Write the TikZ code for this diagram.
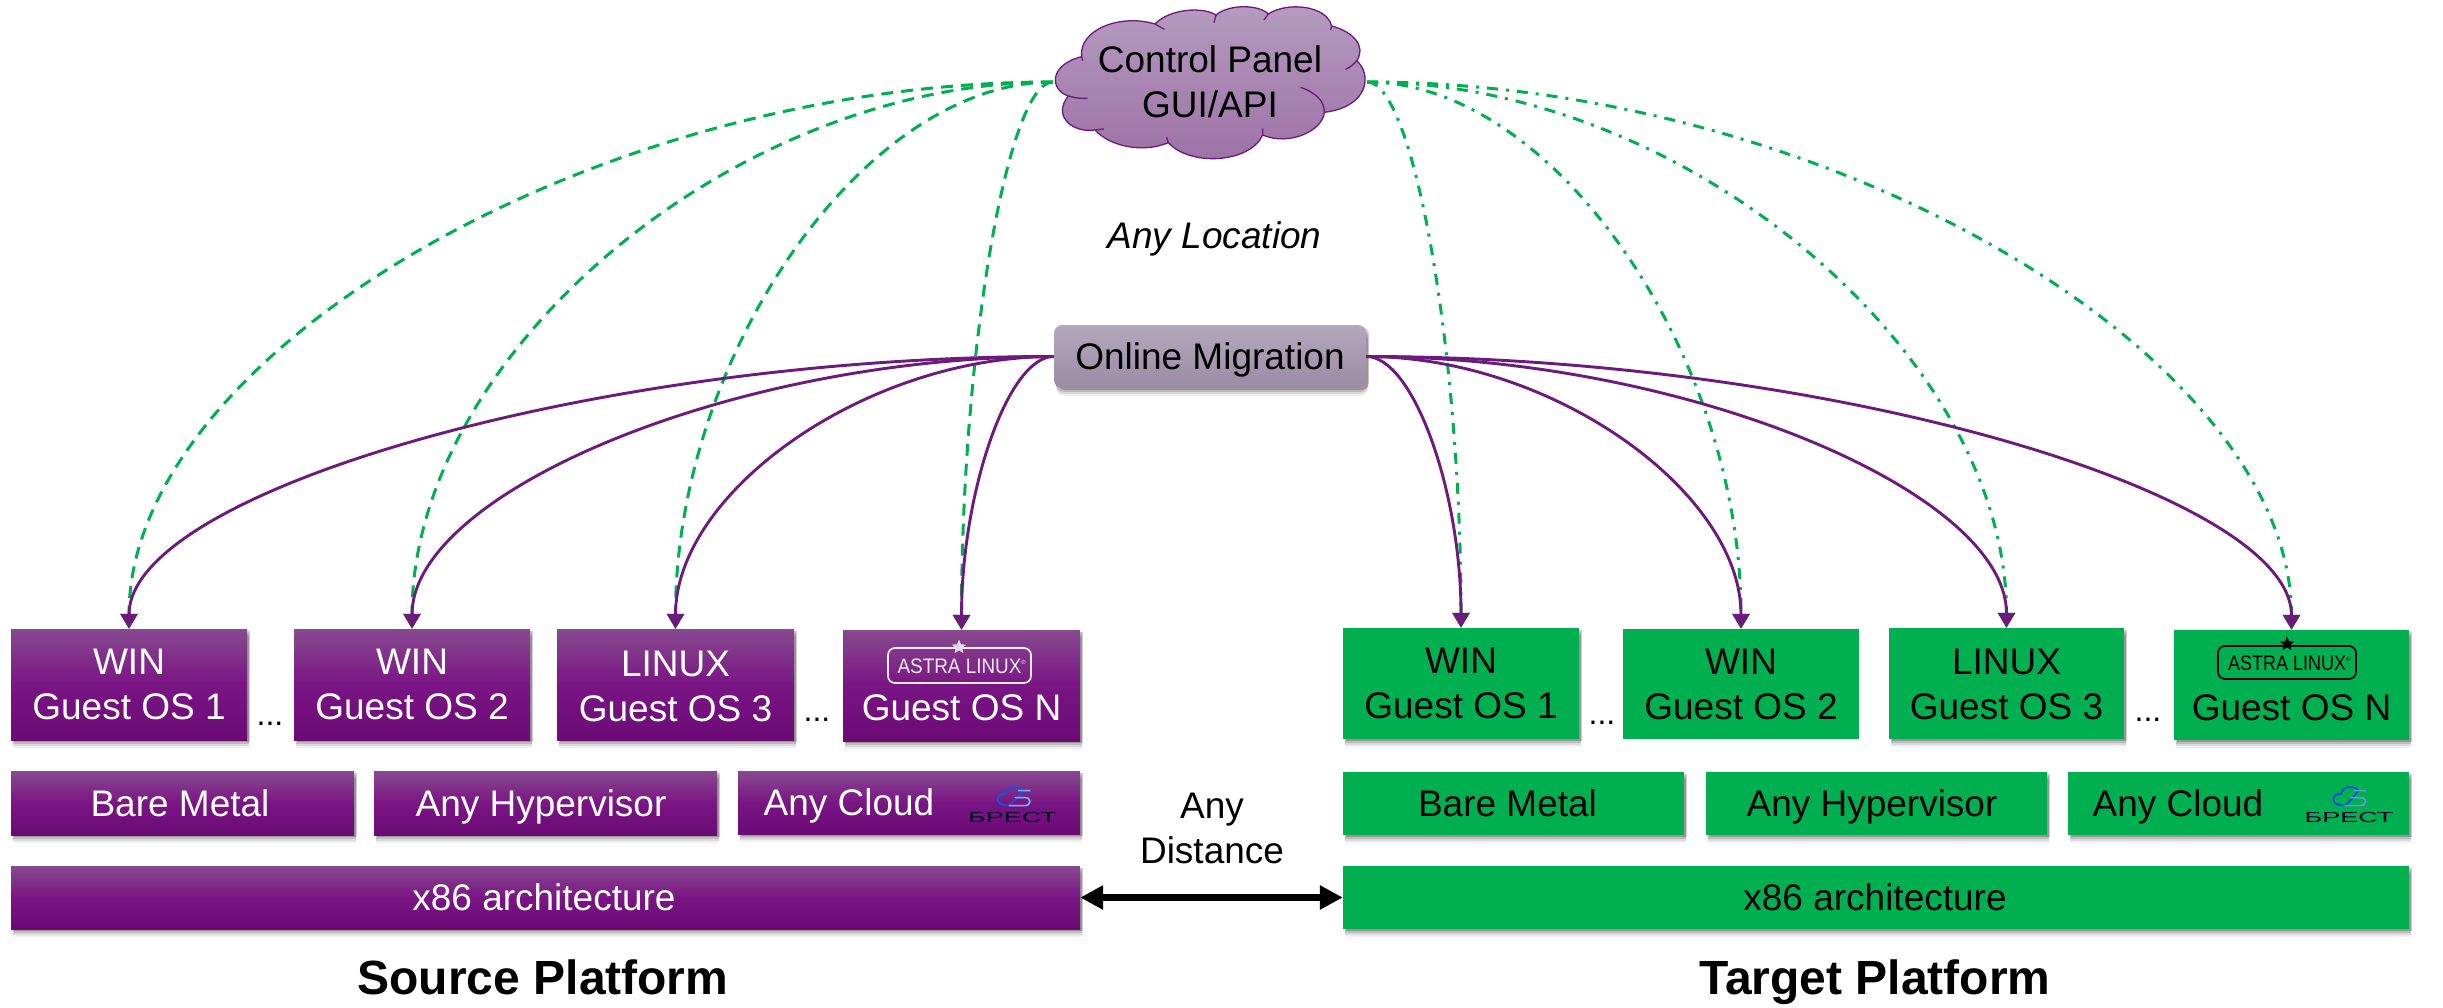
\documentclass[tikz,border=0pt]{standalone}
\usepackage{fontspec}
\setmainfont{Liberation Sans}
\usetikzlibrary{arrows.meta,calc,shadows,shapes.geometric}
\definecolor{purpTop}{HTML}{874A8F}
\definecolor{purpMid}{HTML}{7A1584}
\definecolor{purpBot}{HTML}{6B0A75}
\definecolor{purpLine}{HTML}{6C1A7C}
\definecolor{grn}{HTML}{00B050}
\definecolor{cloudTop}{HTML}{B59CBF}
\definecolor{cloudBot}{HTML}{9C70A5}
\definecolor{migTop}{HTML}{B4A8BD}
\definecolor{migBot}{HTML}{9B8BA5}
\tikzset{
  softshadow/.style={
    general shadow={fill=black,opacity=.06,shadow xshift=2pt,shadow yshift=-8pt},
    general shadow={fill=black,opacity=.09,shadow xshift=2pt,shadow yshift=-6pt},
    general shadow={fill=black,opacity=.13,shadow xshift=2pt,shadow yshift=-4pt},
    general shadow={fill=black,opacity=.20,shadow xshift=3pt,shadow yshift=-2pt}},
  txt/.style={font=\fontsize{37}{45}\selectfont,align=center,inner sep=0pt},
  srcplain/.style={txt,text=white,top color=purpTop,bottom color=purpBot,middle color=purpMid},
  srcbox/.style={softshadow,srcplain},
  tgtplain/.style={txt,text=black,fill=grn},
  tgtbox/.style={softshadow,tgtplain},
  oneline/.style={text height=26pt,text depth=0pt},
  guest/.style={minimum width=236pt,minimum height=111pt},
  greenA/.style={grn,line width=3pt,dash pattern=on 12pt off 8pt,-{Triangle[width=17pt,length=15pt]}},
  greenB/.style={grn,line width=3pt,dash pattern=on 11pt off 8pt on 3pt off 8pt,-{Triangle[width=17pt,length=15pt]}},
  purp/.style={purpLine,line width=2.9pt,-{Triangle[width=17pt,length=15pt]}},
  lbl/.style={font=\fontsize{37}{45}\selectfont,align=center,inner sep=0pt},
  dotsl/.style={font=\fontsize{32}{32}\selectfont,inner sep=0pt,anchor=base},
  head/.style={font=\fontsize{48}{50}\selectfont\bfseries,inner sep=0pt,anchor=base},
  astra/.style={rounded corners=7pt,line width=1.7pt,inner sep=0pt,oneline,text height=15pt,
     font=\fontsize{21}{21}\selectfont},
  brest/.style={inner sep=0pt,font=\fontsize{14.6}{15}\selectfont,text=black!85!blue},
  starmark/.style={star,star points=5,star point ratio=2.2,minimum size=15pt,inner sep=0pt}
}
\newcommand{\conn}[3]{\draw[#1] let \p1=(#2),\p2=(#3) in (#2) .. controls ({0.5*(\x1+\x2)},\y1) and (\x2,{0.5*(\y1+\y2)}) .. (#3);}
\newcommand{\cloudicon}[4]{\begin{scope}[shift={(#1,#2)},x=0.333pt,y=-0.333pt,line width=1.6pt,line cap=round]
  \draw[#3] (150,92) .. controls (130,92) and (115,85) .. (115,73) .. controls (115,60) and (128,55) .. (138,57)
     .. controls (140,42) and (155,35) .. (165,36) .. controls (178,36) and (186,40) .. (190,47) -- (172,70) -- (150,92);
  \draw[#4] (178,47) -- (212,47) (168,68) -- (198,68) .. controls (208,68) and (212,74) .. (212,80)
     .. controls (212,88) and (205,92) .. (198,92) -- (150,92);
\end{scope}}
\begin{document}
\begin{tikzpicture}[x=1pt,y=-1pt]
\useasboundingbox (0,0) rectangle (2443,1007);
\fill[white] (0,0) rectangle (2443,1007);
% cloud
\begin{scope}[xshift=980pt,x=0.3333pt,y=-0.3333pt]
  \path[draw=purpLine,line width=1.3pt,top color=cloudTop,bottom color=cloudBot]
   (265,288) .. controls (210,270) and (205,195) .. (305,170)
   .. controls (295,90) and (420,40) .. (525,72)
   .. controls (570,25) and (670,20) .. (708,45)
   .. controls (750,10) and (840,15) .. (865,42)
   .. controls (920,5) and (1040,15) .. (1055,78)
   .. controls (1120,95) and (1160,140) .. (1130,182)
   .. controls (1175,220) and (1170,320) .. (1033,337)
   .. controls (1030,390) and (930,440) .. (848,405)
   .. controls (810,490) and (630,500) .. (565,428)
   .. controls (490,460) and (390,440) .. (345,390)
   .. controls (280,400) and (215,350) .. (265,288) -- cycle;
  \draw[purpLine,line width=1.3pt]
   (265,288) .. controls (285,294) and (305,296) .. (323,295)
   (305,170) -- (308,182)
   (525,72) -- (553,88)
   (708,45) -- (702,68)
   (865,42) -- (852,60)
   (1055,78) -- (1052,90)
   (1130,182) .. controls (1122,193) and (1110,202) .. (1097,208)
   (1033,337) .. controls (1035,300) and (1000,275) .. (962,262)
   (848,405) -- (848,385)
   (565,428) -- (560,412)
   (345,390) -- (372,387);
\end{scope}
\node[lbl,minimum width=314pt,minimum height=152pt] (cp) at (1210,82) {Control Panel\\GUI/API};
\node[lbl,font=\fontsize{37}{45}\selectfont\itshape] (loc) at (1214.5,239) {Any Location};
\node[softshadow,lbl,rounded corners=8pt,minimum width=312pt,minimum height=63pt,oneline,
      top color=migTop,bottom color=migBot] (mig) at (1210,356.5) {Online Migration};
% source
\node[srcbox,guest] (g1) at (129,684.5) {WIN\\Guest OS 1};
\node[srcbox,guest] (g2) at (412,684.5) {WIN\\Guest OS 2};
\node[srcbox,guest,minimum width=237pt] (g3) at (675.5,684.5) {\rule{0pt}{30pt}LINUX\\Guest OS 3};
\node[srcbox,guest,minimum width=237pt] (gn) at (961.5,685.5) {\rule{0pt}{26pt}\\Guest OS N};
\node[srcbox,oneline,minimum width=343pt,minimum height=64pt] (s1) at (182.5,803) {Bare Metal\hspace*{5pt}};
\node[srcbox,oneline,minimum width=343pt,minimum height=64pt] (s2) at (545.5,803) {Any Hypervisor\hspace*{9pt}};
\node[srcbox,oneline,minimum width=342pt,minimum height=63pt] (s3) at (909,802.5) {Any Cloud\hspace*{120pt}};
\node[srcbox,oneline,minimum width=1069pt,minimum height=63pt] (s4) at (545.5,897.5) {x86 architecture\hspace*{3pt}};
% target
\node[tgtbox,guest] (t1) at (1461,683.5) {WIN\\Guest OS 1};
\node[tgtplain,guest,minimum height=110pt] (t2) at (1741,684) {WIN\\Guest OS 2};
\node[tgtbox,guest,minimum width=235pt] (t3) at (2006.5,683.5) {\rule{0pt}{28pt}LINUX\\Guest OS 3};
\node[tgtbox,guest,minimum width=235pt,minimum height=110pt] (tn) at (2291.5,685) {\rule{0pt}{26pt}\\Guest OS N};
\node[tgtbox,oneline,minimum width=341pt,minimum height=63pt] (r1) at (1513.5,803.5) {Bare Metal\hspace*{12pt}};
\node[tgtbox,oneline,minimum width=341pt,minimum height=63pt] (r2) at (1876.5,803.5) {Any Hypervisor\hspace*{9pt}};
\node[tgtbox,oneline,minimum width=341pt,minimum height=63pt] (r3) at (2238.5,803.5) {Any Cloud\hspace*{121pt}};
\node[tgtbox,oneline,minimum width=1066pt,minimum height=63pt] (r4) at (1876,897.5) {x86 architecture\hspace*{2pt}};
% logos
\node[astra,draw=white!90!purpTop,text=white!90!purpTop,minimum width=143pt,minimum height=35pt] (la) at (959.5,665.5)
  {\scalebox{.9}[1]{ASTRA LINUX}\rlap{\raisebox{9pt}{\fontsize{6}{6}\selectfont ®}}};
\node[starmark,fill=white!80!purpTop] (ls) at (959,647) {};
\node[astra,draw=black,text=black,minimum width=138pt,minimum height=33pt] (ra) at (2287,662.5)
  {\scalebox{.857}[1]{ASTRA LINUX}\rlap{\raisebox{9pt}{\fontsize{6}{6}\selectfont ®}}};
\node[starmark,fill=black] (rs) at (2287,644) {};
\node[brest] (lb) at (1012.5,817) {\scalebox{1.85}[1]{БРЕСТ}};
\node[brest] (rb) at (2349,817.5) {\scalebox{1.85}[1]{БРЕСТ}};
\cloudicon{959.3}{775}{blue!60!cyan!90!black}{blue!45!cyan!60!white}
\cloudicon{2295}{775}{blue!75!cyan}{cyan!50!blue!60!white}
% dots
\node[dotsl] (d1) at (270,725) {...};
\node[dotsl] (d2) at (817,721) {...};
\node[dotsl] (d3) at (1602,724) {...};
\node[dotsl] (d4) at (2148,721) {...};
% captions
\node[lbl] (dist) at (1212,828) {Any\\Distance};
\node[head] (sp) at (543,994) {Source Platform};
\node[head] (tp) at (1875,994) {Target Platform};
\draw[black,line width=6.5pt,{Triangle[width=23pt,length=23pt]}-{Triangle[width=23pt,length=23pt]}] (s4.east) -- (r4.west);
% connectors
\conn{greenA}{cp.west}{g1.north}
\conn{greenA}{cp.west}{g2.north}
\conn{greenA}{cp.west}{g3.north}
\conn{greenA}{cp.west}{gn.north}
\conn{greenB}{cp.east}{t1.north}
\conn{greenB}{cp.east}{t2.north}
\conn{greenB}{cp.east}{t3.north}
\conn{greenB}{cp.east}{tn.north}
\conn{purp}{mig.west}{g1.north}
\conn{purp}{mig.west}{g2.north}
\conn{purp}{mig.west}{g3.north}
\conn{purp}{mig.west}{gn.north}
\conn{purp}{mig.east}{t1.north}
\conn{purp}{mig.east}{t2.north}
\conn{purp}{mig.east}{t3.north}
\conn{purp}{mig.east}{tn.north}
\end{tikzpicture}
\end{document}
